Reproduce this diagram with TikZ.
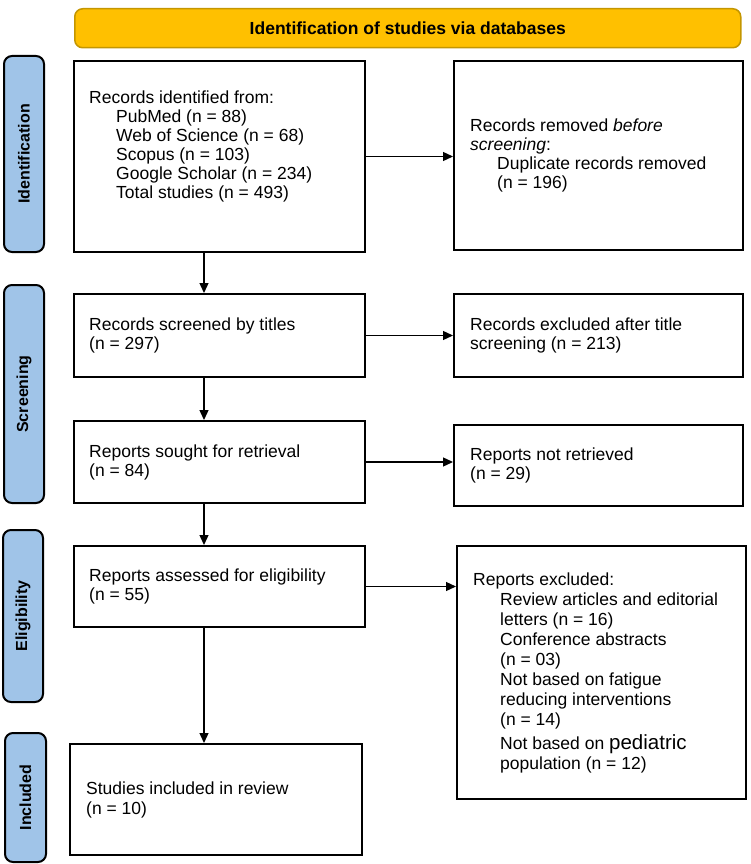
\documentclass[tikz,border=0pt]{standalone}
\usepackage{fontspec}
\setmainfont{Liberation Sans}
\usetikzlibrary{arrows.meta,calc}
\definecolor{sideblue}{RGB}{160,196,232}
\definecolor{hdrfill}{RGB}{255,192,0}
\definecolor{hdrdraw}{RGB}{196,150,0}
\tikzset{
  box/.style={draw=black, line width=2pt, fill=white, anchor=north west, inner sep=0pt},
  txt/.style={anchor=west, align=left, inner sep=0pt, font=\fontsize{17.5}{19}\selectfont},
  txtb/.style={txt, font=\fontsize{17.5}{20}\selectfont},
  side/.style={draw=black, line width=2pt, fill=sideblue, rounded corners=8pt, rotate=90,
     font=\fontsize{16}{16}\selectfont\bfseries, inner sep=0pt},
  hdr/.style={draw=hdrdraw, line width=1.5pt, fill=hdrfill, rounded corners=8pt, anchor=north west,
     font=\fontsize{17.5}{17.5}\selectfont\bfseries, inner sep=0pt},
  arr/.style={line width=1.3pt, -{Triangle[length=10pt,width=9pt]}}
}
\newcommand{\ind}{\hspace*{27pt}}
\begin{document}
\begin{tikzpicture}[x=1pt,y=-1pt]
\useasboundingbox (0,0) rectangle (750,864);

% header
\node[hdr, minimum width=666pt, minimum height=39pt] (hd) at (74,8) {Identification of studies via databases};

% side bars
\node[side, minimum width=196pt, minimum height=40pt] (s1) at (24,154) {Identification};
\node[side, minimum width=218pt, minimum height=40pt] (s2) at (24,394) {Screening};
\node[side, minimum width=172pt, minimum height=40pt] (s3) at (23,616) {Eligibility};
\node[side, minimum width=129pt, minimum height=41pt] (s4) at (25.5,797.5) {Included};

% boxes
\node[box, minimum width=291pt, minimum height=191pt] (b1) at (73,60) {};
\node[box, minimum width=289pt, minimum height=189pt] (b2) at (453,60) {};
\node[box, minimum width=291pt, minimum height=83pt] (b3) at (73,293) {};
\node[box, minimum width=289pt, minimum height=83pt] (b4) at (453,293) {};
\node[box, minimum width=291pt, minimum height=82pt] (b5) at (73,420) {};
\node[box, minimum width=289pt, minimum height=81pt] (b6) at (453,424) {};
\node[box, minimum width=291pt, minimum height=81pt] (b7) at (73,545) {};
\node[box, minimum width=289pt, minimum height=253pt] (b8) at (456,545) {};
\node[box, minimum width=292pt, minimum height=111pt] (b9) at (69,743) {};

% texts
\node[txt] (t1) at ($(b1.west)+(16,-10)$) {Records identified from:\\
\ind PubMed (n = 88)\\
\ind Web of Science (n = 68)\\
\ind Scopus (n = 103)\\
\ind Google Scholar (n = 234)\\
\ind Total studies (n = 493)};
\node[txt] (t2) at ($(b2.west)+(17,0)$) {Records removed \textit{before}\\
\textit{screening}:\\
\ind Duplicate records removed\\
\ind (n = 196)};
\node[txt] (t3) at ($(b3.west)+(16,0)$) {Records screened by titles\\(n = 297)};
\node[txt] (t4) at ($(b4.west)+(17,0)$) {Records excluded after title\\screening (n = 213)};
\node[txt] (t5) at ($(b5.west)+(16,0)$) {Reports sought for retrieval\\(n = 84)};
\node[txt] (t6) at ($(b6.west)+(17,0)$) {Reports not retrieved\\(n = 29)};
\node[txt] (t7) at ($(b7.west)+(16,0)$) {Reports assessed for eligibility\\(n = 55)};
\node[txtb] (t8) at ($(b8.west)+(17,0)$) {Reports excluded:\\
\ind Review articles and editorial\\
\ind letters (n = 16)\\
\ind Conference abstracts\\
\ind (n = 03)\\
\ind Not based on fatigue\\
\ind reducing interventions\\
\ind (n = 14)\\[4pt]
\ind Not based on {\fontsize{20.5}{20}\selectfont pediatric}\\
\ind population (n = 12)};
\node[txtb] (t9) at ($(b9.west)+(17,0)$) {Studies included in review\\(n = 10)};

% arrows
\coordinate (ax) at (204,0);
\draw[arr] (b1.south -| ax) -- (b3.north -| ax);
\draw[arr] (b3.south -| ax) -- (b5.north -| ax);
\draw[arr] (b5.south -| ax) -- (b7.north -| ax);
\draw[arr] (b7.south -| ax) -- (b9.north -| ax);
\draw[arr] (b1.east) -- (b1.east -| b2.west);
\draw[arr] (b3.east) -- (b3.east -| b4.west);
\draw[arr] (b5.east) -- (b5.east -| b6.west);
\draw[arr] (b7.east) -- (b7.east -| b8.west);
\end{tikzpicture}
\end{document}
